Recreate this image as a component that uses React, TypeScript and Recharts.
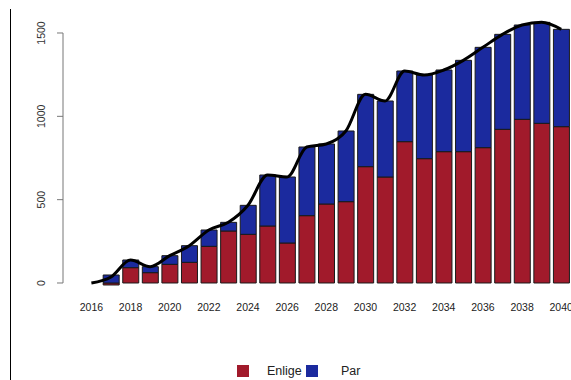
import React from "react";
import {Bar, ComposedChart, Line, ReferenceLine, XAxis, YAxis} from "recharts";

const YEARS = ["2016", "2017", "2018", "2019", "2020", "2021", "2022", "2023", "2024", "2025", "2026", "2027", "2028",
    "2029", "2030", "2031", "2032", "2033", "2034", "2035", "2036", "2037", "2038", "2039", "2040"];
const ENLIGE = [0, -12, 92, 62, 112, 124, 220, 312, 292, 342, 240, 404, 474, 488, 698, 636, 848, 746, 788, 788, 812, 922, 982, 958, 938];
const PAR = [0, 48, 46, 36, 52, 100, 98, 52, 174, 306, 396, 412, 360, 424, 434, 456, 424, 502, 490, 548, 602, 570, 566, 606, 584];
const Y_TICKS = [0, 500, 1000, 1500];

const RED = "#A11A2B";
const BLUE = "#1B2A9E";
const FONT = "'Liberation Sans', Arial, sans-serif";

const data = YEARS.map((year, i) => ({
    year,
    enlige: ENLIGE[i],
    par: PAR[i],
    total: ENLIGE[i] + PAR[i],
    n: i,
}));

// @ts-ignore
const YTick = ({x, y, payload}) => (
    <text x={x - 14} y={y} transform={`rotate(-90, ${x - 14}, ${y})`} textAnchor="middle"
          dominantBaseline="central" fontSize={10.5} fill="#333" fontFamily={FONT}>
        {payload.value}
    </text>
);

// @ts-ignore
const XTick = ({x, y, payload}) => (
    <text x={x} y={y + 19} textAnchor="middle" dominantBaseline="central" fontSize={10.5} fill="#222"
          fontFamily={FONT}>
        {payload.value}
    </text>
);

const LegendItem = ({color, label, left, textLeft}: { color: string, label: string, left: number, textLeft: number }) => (
    <>
        <div style={{position: "absolute", left, top: 365, width: 12, height: 12, background: color}}/>
        <div style={{
            position: "absolute", left: textLeft, top: 362, fontSize: 12.5, lineHeight: "18px",
            fontFamily: FONT, color: "#222"
        }}>{label}</div>
    </>
);

export default function App() {
    return (
        <div style={{position: "absolute", left: 0, top: 0, width: 571, height: 380, background: "#fff"}}>
            <div style={{position: "absolute", left: 10, top: 9, width: 1, height: 371, background: "#000"}}/>
            <ComposedChart width={571} height={380} data={data} stackOffset="sign"
                           margin={{top: 16.33, right: 0, bottom: 63.67, left: 0}}>
                <XAxis dataKey="year" interval={1} tickLine={false} axisLine={false} tickSize={0}
                       padding={{left: 18.6, right: 0}} height={30} tick={XTick}/>
                <XAxis xAxisId="n" type="number" domain={[0, 1]} hide/>
                <YAxis domain={[-20, 1600]} allowDataOverflow ticks={Y_TICKS} width={63} axisLine={false}
                       tickSize={6} tickLine={{stroke: "#777"}} tick={YTick}/>
                <ReferenceLine xAxisId="n" segment={[{x: 0, y: 0}, {x: 0, y: 1500}]} stroke="#777"
                               ifOverflow="visible"/>
                <Bar dataKey="enlige" stackId="a" fill={RED} stroke="#1a1a1a" strokeWidth={1} barSize={16}
                     isAnimationActive={false}/>
                <Bar dataKey="par" stackId="a" fill={BLUE} stroke="#1a1a1a" strokeWidth={1} barSize={16}
                     isAnimationActive={false}/>
                <Line dataKey="total" type="monotone" stroke="#000" strokeWidth={3} dot={false}
                      isAnimationActive={false}/>
            </ComposedChart>
            <LegendItem color={RED} label="Enlige" left={237} textLeft={267}/>
            <LegendItem color={BLUE} label="Par" left={306} textLeft={341}/>
        </div>
    );
}
